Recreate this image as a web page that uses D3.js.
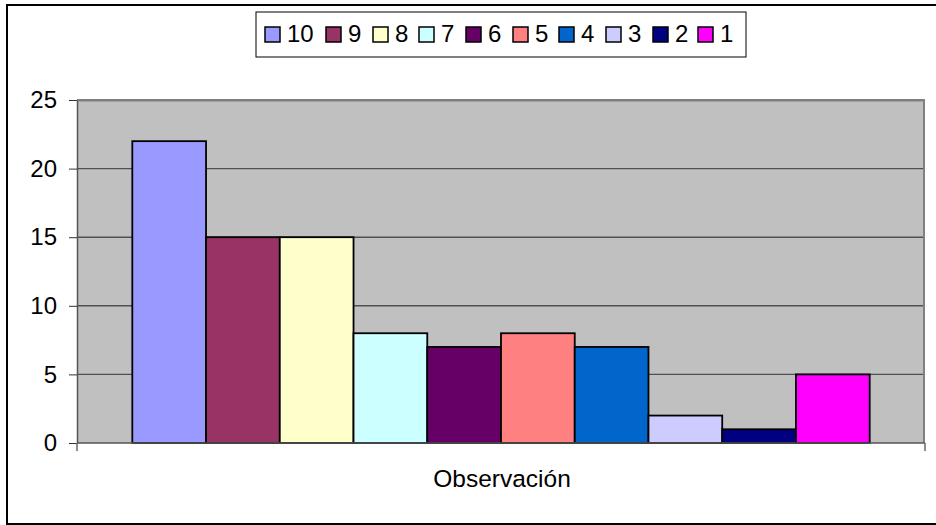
<!DOCTYPE html>
<html>
<head>
<meta charset="utf-8">
<script src="https://cdn.jsdelivr.net/npm/d3@7/dist/d3.min.js"></script>
<style>
  body { margin: 0; background: #fff; }
  svg text { font-family: "Liberation Sans", Arial, sans-serif; }
</style>
</head>
<body>
<div id="chart"></div>
<script>
// series shown in legend order
const seriesNames = ['10', '9', '8', '7', '6', '5', '4', '3', '2', '1'];
const seriesValues = [22, 15, 15, 8, 7, 8, 7, 2, 1, 5];
const seriesColors = ['#9999FF', '#993366', '#FFFFCC', '#CCFFFF', '#660066', '#FF8080', '#0066CC', '#CCCCFF', '#000080', '#FF00FF'];
const yTicks = [0, 5, 10, 15, 20, 25];
const categoryLabel = 'Observación';

const W = 936, H = 525;
const MARGIN = { top: 100, right: 11, bottom: 82, left: 77 };
const gW = W - MARGIN.left - MARGIN.right;
const gH = H - MARGIN.top - MARGIN.bottom;
const FONT = 24;

const svg = d3.select('#chart').append('svg').attr('width', W).attr('height', H);

// outer chart border
svg.append('rect')
  .attr('x', 7).attr('y', 5).attr('width', W).attr('height', 519)
  .attr('fill', 'none').attr('stroke', '#000').attr('stroke-width', 2);

const g = svg.append('g').attr('transform', `translate(${MARGIN.left},${MARGIN.top})`);

const x = d3.scaleBand()
  .domain(seriesNames)
  .range([0, gW])
  .paddingInner(0)
  .paddingOuter(0.75);

const y = d3.scaleLinear().domain([0, 25]).range([gH, 0]);

// plot background
g.append('rect')
  .attr('width', gW).attr('height', gH)
  .attr('fill', '#C0C0C0');

// gridlines
g.selectAll('.grid')
  .data(yTicks.filter(d => d > 0))
  .enter().append('line')
  .attr('x1', 0).attr('x2', gW)
  .attr('y1', d => y(d)).attr('y2', d => y(d))
  .attr('stroke', '#505050').attr('stroke-width', 1.4);

// plot border top/right
g.append('path')
  .attr('d', `M0,0.5H${gW - 1}V${gH}`)
  .attr('fill', 'none').attr('stroke', '#808080').attr('stroke-width', 2);

// bars
g.selectAll('.bar')
  .data(seriesNames)
  .enter().append('rect')
  .attr('class', 'bar')
  .attr('x', d => x(d))
  .attr('width', x.bandwidth())
  .attr('y', (d, i) => y(seriesValues[i]))
  .attr('height', (d, i) => y(0) - y(seriesValues[i]))
  .attr('fill', (d, i) => seriesColors[i])
  .attr('stroke', '#000').attr('stroke-width', 1.8);

// y axis
const yAxis = g.append('g')
  .call(d3.axisLeft(y).tickValues(yTicks).tickSizeInner(8).tickSizeOuter(0).tickPadding(12));
yAxis.attr('font-family', null).attr('font-size', null);
yAxis.select('.domain').attr('stroke', '#555').attr('stroke-width', 1.5);
yAxis.selectAll('.tick line').attr('stroke', '#333');
yAxis.selectAll('text').style('font-size', FONT + 'px').attr('fill', '#000');

// x axis line with end ticks
const xAxis = g.append('g').attr('transform', `translate(0,${gH})`);
xAxis.append('line')
  .attr('x1', 0).attr('x2', gW)
  .attr('stroke', '#555').attr('stroke-width', 1.5);
xAxis.selectAll('.etick')
  .data([0, gW])
  .enter().append('line')
  .attr('x1', d => d).attr('x2', d => d)
  .attr('y1', 0).attr('y2', 8)
  .attr('stroke', '#666').attr('stroke-width', 1.5);

xAxis.append('text')
  .attr('x', 502 - MARGIN.left).attr('y', 44)
  .attr('text-anchor', 'middle')
  .style('font-size', '24.5px')
  .text(categoryLabel);

// legend
const legend = svg.append('g');
legend.append('rect')
  .attr('x', 256).attr('y', 12).attr('width', 490).attr('height', 45)
  .attr('fill', '#fff').attr('stroke', '#000').attr('stroke-width', 1);

const swatchX = [265, 326, 373, 419, 466, 513, 559, 606, 653, 698];
const items = legend.selectAll('.leg')
  .data(seriesNames)
  .enter().append('g')
  .attr('transform', (d, i) => `translate(${swatchX[i]},27)`);
items.append('rect')
  .attr('width', 15).attr('height', 15)
  .attr('fill', (d, i) => seriesColors[i])
  .attr('stroke', '#000').attr('stroke-width', 1.5);
items.append('text')
  .attr('x', 22).attr('y', 15)
  .style('font-size', FONT + 'px')
  .text(d => d);
</script>
</body>
</html>
